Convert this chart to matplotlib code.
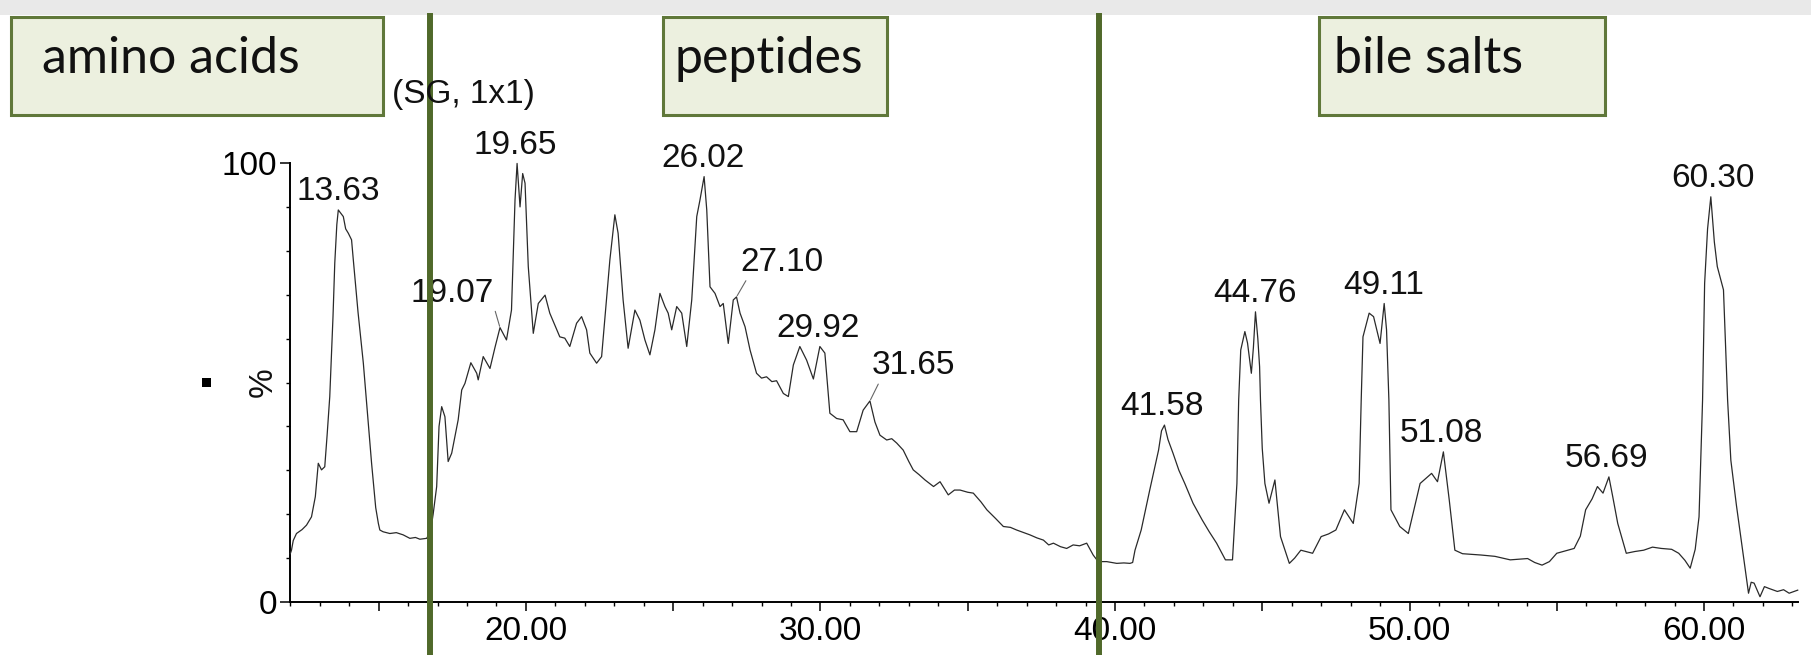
import matplotlib
matplotlib.use("Agg")
import matplotlib.pyplot as plt
from matplotlib.patches import Rectangle
from matplotlib.ticker import MultipleLocator, FixedLocator, FuncFormatter

# ---------------- data ----------------
rt = [12.00, 12.04, 12.10, 12.21, 12.40, 12.55, 12.72, 12.85, 12.95, 13.06, 13.17, 13.25,
      13.34, 13.45, 13.51, 13.58, 13.63, 13.72, 13.80, 13.88, 13.97, 14.08, 14.14, 14.30,
      14.48, 14.62, 14.76, 14.90, 14.99, 15.04, 15.15, 15.38, 15.60, 15.83, 16.06, 16.25,
      16.40, 16.63, 16.76, 16.85, 16.97, 17.05, 17.14, 17.25, 17.36, 17.48, 17.70, 17.82,
      17.93, 18.13, 18.33, 18.38, 18.55, 18.78, 18.95, 19.12, 19.34, 19.51, 19.63, 19.70,
      19.80, 19.89, 19.97, 20.08, 20.25, 20.42, 20.65, 20.81, 21.15, 21.32, 21.49, 21.72,
      21.89, 22.06, 22.17, 22.40, 22.57, 22.85, 23.02, 23.13, 23.30, 23.47, 23.70, 23.87,
      24.04, 24.21, 24.38, 24.55, 24.72, 24.83, 24.95, 25.12, 25.29, 25.46, 25.63, 25.80,
      25.91, 26.05, 26.14, 26.25, 26.42, 26.59, 26.70, 26.87, 27.04, 27.15, 27.27, 27.44,
      27.61, 27.83, 28.00, 28.17, 28.35, 28.51, 28.74, 28.91, 29.08, 29.30, 29.53, 29.76,
      29.98, 30.15, 30.32, 30.55, 30.77, 31.00, 31.23, 31.45, 31.68, 31.85, 32.02, 32.25,
      32.42, 32.59, 32.81, 33.00, 33.15, 33.35, 33.55, 33.84, 34.06, 34.34, 34.55, 34.74,
      35.00, 35.19, 35.45, 35.65, 35.95, 36.21, 36.45, 36.66, 36.90, 37.11, 37.35, 37.57,
      37.75, 37.91, 38.15, 38.36, 38.58, 38.80, 39.04, 39.26, 39.43, 39.72, 40.06, 40.30,
      40.51, 40.60, 40.68, 40.89, 41.18, 41.48, 41.58, 41.68, 41.80, 41.97, 42.17, 42.37,
      42.65, 42.96, 43.20, 43.45, 43.75, 43.99, 44.08, 44.14, 44.20, 44.27, 44.41, 44.50,
      44.63, 44.70, 44.77, 44.85, 44.91, 44.94, 45.00, 45.09, 45.23, 45.43, 45.62, 45.92,
      46.10, 46.31, 46.71, 47.00, 47.25, 47.50, 47.79, 48.09, 48.29, 48.36, 48.42, 48.63,
      48.78, 49.00, 49.14, 49.22, 49.30, 49.37, 49.67, 49.96, 50.15, 50.36, 50.75, 50.95,
      51.15, 51.35, 51.54, 51.80, 52.43, 52.90, 53.42, 54.01, 54.25, 54.50, 54.75, 55.00,
      55.59, 55.80, 55.98, 56.20, 56.38, 56.57, 56.77, 56.90, 57.07, 57.36, 57.65, 57.95,
      58.25, 58.55, 58.90, 59.14, 59.35, 59.53, 59.70, 59.83, 59.95, 60.02, 60.12, 60.23,
      60.35, 60.45, 60.66, 60.80, 60.91, 61.10, 61.31, 61.51, 61.60, 61.70, 61.90, 62.05,
      62.20, 62.49, 62.70, 62.89, 63.18]
intensity = [11.0, 11.8, 14.0, 15.6, 16.5, 17.5, 19.4, 24.0, 31.6, 30.1, 30.8, 38.0,
             46.8, 65.0, 77.2, 86.0, 89.3, 88.5, 87.8, 85.0, 84.0, 82.5, 77.9, 66.0,
             54.4, 43.0, 31.6, 21.5, 17.9, 16.4, 16.0, 15.6, 15.8, 15.3, 14.5, 14.7,
             14.3, 14.5, 16.0, 20.0, 26.3, 40.0, 44.5, 42.2, 32.0, 33.9, 41.5, 48.3,
             49.8, 54.5, 52.1, 50.6, 55.9, 53.2, 58.0, 62.5, 59.7, 66.5, 91.6, 99.9,
             90.0, 97.6, 95.4, 76.4, 61.2, 68.0, 69.9, 65.8, 60.4, 60.1, 58.2, 63.5,
             65.0, 62.0, 56.7, 54.4, 55.9, 77.9, 88.2, 84.0, 68.8, 57.8, 66.5, 64.2,
             59.7, 56.3, 62.0, 70.3, 67.3, 65.8, 62.0, 67.3, 65.8, 58.2, 68.8, 87.8,
             91.6, 96.9, 89.3, 71.8, 70.3, 67.3, 68.0, 58.9, 68.8, 69.5, 65.8, 62.7,
             57.4, 52.1, 51.0, 51.3, 50.2, 50.4, 47.5, 46.8, 54.0, 58.2, 55.1, 50.8,
             58.2, 56.7, 43.0, 41.8, 41.5, 38.8, 38.8, 43.7, 45.8, 41.0, 38.0, 36.9,
             37.2, 36.2, 34.6, 32.0, 30.1, 29.0, 27.8, 26.3, 27.4, 24.4, 25.5, 25.5,
             25.0, 24.8, 22.8, 21.0, 19.0, 17.2, 17.0, 16.4, 15.8, 15.3, 14.6, 14.1,
             13.0, 13.4, 12.6, 12.2, 13.0, 12.8, 13.4, 10.7, 9.2, 9.2, 8.8, 8.9,
             8.8, 9.0, 11.8, 16.4, 25.5, 34.6, 39.0, 40.3, 37.0, 33.9, 30.0, 27.0,
             22.5, 18.7, 16.0, 13.4, 9.6, 9.6, 20.0, 27.0, 46.0, 57.4, 61.6, 59.0,
             52.1, 58.0, 66.1, 60.0, 53.6, 46.0, 35.0, 27.0, 22.5, 27.8, 14.9, 8.8,
             10.0, 11.8, 11.1, 14.9, 15.5, 16.4, 21.0, 17.9, 27.0, 46.0, 60.4, 65.8,
             65.0, 58.9, 68.0, 62.0, 46.0, 21.0, 17.2, 15.6, 21.0, 27.0, 29.3, 27.4,
             34.2, 23.2, 11.8, 11.0, 10.7, 10.4, 9.6, 9.9, 9.0, 8.4, 9.2, 11.1,
             12.2, 15.0, 21.0, 23.5, 26.3, 24.8, 28.5, 24.0, 17.9, 11.1, 11.5, 11.8,
             12.5, 12.2, 12.0, 11.1, 9.5, 7.7, 12.0, 19.4, 46.0, 72.6, 85.0, 92.3,
             82.0, 76.4, 71.1, 46.0, 32.3, 22.0, 11.8, 2.0, 4.5, 4.3, 1.2, 3.5,
             3.1, 2.4, 2.8, 2.0, 2.7]

# peak labels placed straight above the apex
peak_labels = ["13.63", "19.65", "26.02", "29.92", "41.58", "44.76", "49.11",
               "51.08", "56.69", "60.30"]
peak_heights = [89.3, 99.9, 96.9, 58.2, 40.3, 66.1, 68.0, 34.2, 28.5, 92.3]

# peak labels with a leader line (label, apex rt, apex height)
leader_labels = ["19.07", "27.10", "31.65"]
leader_rt = [19.12, 27.15, 31.68]
leader_heights = [62.5, 69.5, 45.8]

region_names = ["amino acids", "peptides", "bile salts"]
region_bounds = [16.76, 39.45]          # vertical separators (min)

x_tick_labels = ["20.00", "30.00", "40.00", "50.00", "60.00"]
y_tick_labels = ["0", "100"]

# ---------------- figure ----------------
W, H = 1811, 655
fig = plt.figure(figsize=(W / 100, H / 100), dpi=100)
fig.patch.set_facecolor("white")

def fx(px):
    return px / W

def fy(py):
    return 1 - py / H

ax = fig.add_axes([fx(290), fy(602), fx(1797.7) - fx(290), (602 - 163) / H])
ax.set_facecolor("none")
ax.set_xlim(11.99, 63.18)
ax.set_ylim(0, 100)

TICKFONT = ["Liberation Sans", "DejaVu Sans"]

ax.plot(rt, intensity, color="#2a2a2a", lw=0.9, clip_on=False, zorder=3)

# axes styling
for s in ["top", "right"]:
    ax.spines[s].set_visible(False)
for s in ["left", "bottom"]:
    ax.spines[s].set_linewidth(1.4)
    ax.spines[s].set_color("black")

ax.xaxis.set_major_locator(MultipleLocator(5))
ax.xaxis.set_minor_locator(MultipleLocator(1))
xlab_map = {float(t): t for t in x_tick_labels}
ax.xaxis.set_major_formatter(FuncFormatter(lambda v, p: xlab_map.get(round(v, 2), "")))
y_vals = [float(t) for t in y_tick_labels]
ax.yaxis.set_major_locator(FixedLocator(y_vals))
ax.yaxis.set_minor_locator(MultipleLocator(10))
ax.yaxis.set_major_formatter(FuncFormatter(lambda v, p: y_tick_labels[y_vals.index(v)]))

ax.tick_params(axis="x", which="major", length=6.5, width=1.1, pad=3.5, labelsize=24)
ax.tick_params(axis="x", which="minor", length=3, width=1.0)
ax.tick_params(axis="y", which="major", length=7, width=1.1, pad=2, labelsize=24)
ax.tick_params(axis="y", which="minor", length=3, width=1.0)
for lab in ax.get_xticklabels() + ax.get_yticklabels():
    lab.set_family(TICKFONT)

# peak annotations
for lbl, h in zip(peak_labels, peak_heights):
    ax.annotate(lbl, xy=(float(lbl), h), xytext=(0, 7), textcoords="offset points",
                ha="center", va="baseline", fontsize=24, family=TICKFONT, color="#111111",
                annotation_clip=False, zorder=4)

leader_offsets = [(-34.3, 24.9), (32.5, 24.8), (31.6, 25.3)]
leader_relpos = [(1.0, 0.05), (0.1, 0.05), (0.1, 0.05)]
for lbl, x, h, off, rp in zip(leader_labels, leader_rt, leader_heights, leader_offsets, leader_relpos):
    ax.annotate(lbl, xy=(x, h), xytext=off, textcoords="offset points",
                ha="center", va="center", fontsize=24, family=TICKFONT, color="#111111",
                annotation_clip=False, zorder=4,
                arrowprops=dict(arrowstyle="-", color="#666666", lw=0.8,
                                relpos=rp, shrinkA=0, shrinkB=1))

# green separators (drawn over the text)
ymin = (602 - 655) / 439
ymax = (602 - 16) / 439
for b in region_bounds:
    ax.axvline(b, ymin=ymin, ymax=ymax, color="#50692a", lw=4.3, clip_on=False, zorder=10)

# top gray strip
fig.add_artist(Rectangle((0, fy(15)), 1, 15 / H, transform=fig.transFigure,
                         facecolor="#e9e9e9", edgecolor="none", zorder=0))

# region boxes
box_px = [(11, 383), (663, 887), (1319, 1605)]
text_left = [42, 675, 1334]
for name, (x0, x1), tl in zip(region_names, box_px, text_left):
    fig.add_artist(Rectangle((fx(x0), fy(115)), fx(x1) - fx(x0), (115 - 17) / H,
                             transform=fig.transFigure, facecolor="#ecf0df",
                             edgecolor="#60783a", lw=2.2, zorder=1))
    fig.text(fx(tl), fy(73), name, ha="left", va="baseline", fontsize=36,
             family=["Lato", "DejaVu Sans"], color="#111111", zorder=2)

# misc labels
fig.text(fx(392), fy(95), "(SG, 1x1)", ha="left", va="center", fontsize=24,
         family=TICKFONT, color="#111111", zorder=1)
fig.text(fx(263.5), fy(382), "%", ha="center", va="center", rotation=90,
         fontsize=24, family=TICKFONT, color="#111111")
fig.add_artist(Rectangle((fx(201.7), fy(386.7)), 9 / W, 9 / H, transform=fig.transFigure,
                         facecolor="black", edgecolor="none"))

fig.savefig("out.png", dpi=100, facecolor="white")
